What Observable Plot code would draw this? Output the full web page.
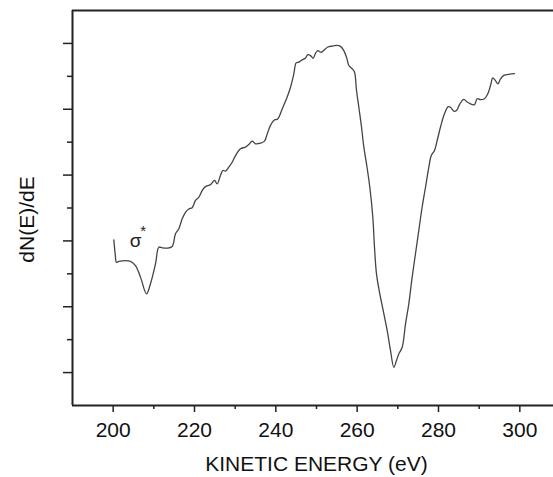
<!DOCTYPE html>
<html>
<head>
<meta charset="utf-8">
<script src="https://cdn.jsdelivr.net/npm/d3@7"></script>
<script src="https://cdn.jsdelivr.net/npm/@observablehq/plot@0.6"></script>
<style>
  html, body { margin: 0; padding: 0; background: #fff; }
  #chart { width: 553px; height: 477px; overflow: hidden; }
</style>
</head>
<body>
<div id="chart"></div>
<script>
// Kinetic energy (eV) and dN(E)/dE (arbitrary units, tick interval = 1)
const energy = [200.16, 200.5, 200.82, 201.39, 204.26, 205.49, 206.72, 208.20, 209.18, 210.41, 211.23, 212.05, 213.28, 214.51, 215.33, 216.15, 216.97, 217.79, 218.61, 219.43, 220.25, 221.07, 221.89, 222.70, 223.93, 224.92, 225.57, 226.39, 226.97, 227.62, 228.44, 229.26, 230.08, 231.31, 232.54, 233.36, 234.18, 235.00, 236.23, 237.21, 237.87, 238.69, 239.51, 240.49, 241.56, 242.79, 243.61, 244.43, 245.00, 245.66, 246.48, 247.30, 247.87, 248.52, 249.18, 249.75, 250.33, 251.15, 251.97, 252.79, 253.85, 254.92, 255.90, 256.72, 257.38, 257.95, 258.77, 259.34, 259.84, 260.41, 261.07, 261.64, 262.30, 263.11, 263.85, 264.26, 264.75, 265.57, 266.39, 267.38, 268.20, 269.02, 269.67, 270.25, 271.07, 271.89, 272.70, 273.52, 274.34, 275.16, 275.98, 276.80, 277.62, 278.20, 279.02, 279.67, 280.49, 281.31, 282.38, 282.95, 283.77, 284.43, 285.25, 286.23, 287.05, 287.87, 288.85, 289.51, 290.33, 291.31, 292.13, 292.79, 293.36, 294.02, 294.59, 295.25, 296.07, 297.30, 298.69];
const signal = [5.03, 4.60, 4.35, 4.38, 4.38, 4.25, 3.90, 3.39, 3.70, 4.30, 4.81, 4.79, 4.78, 4.83, 5.22, 5.37, 5.67, 5.87, 5.97, 6.01, 6.23, 6.33, 6.53, 6.65, 6.71, 6.84, 6.73, 6.99, 7.14, 7.12, 7.24, 7.39, 7.59, 7.80, 7.85, 7.93, 8.03, 7.95, 7.97, 8.03, 8.25, 8.51, 8.66, 8.71, 9.01, 9.37, 9.67, 10.08, 10.41, 10.43, 10.50, 10.56, 10.66, 10.63, 10.55, 10.70, 10.78, 10.73, 10.81, 10.89, 10.92, 10.94, 10.91, 10.78, 10.58, 10.33, 10.23, 10.13, 9.57, 9.06, 8.46, 7.85, 7.34, 6.63, 5.72, 4.81, 4.00, 3.39, 2.89, 2.28, 1.67, 1.16, 1.37, 1.57, 1.77, 2.48, 3.09, 3.90, 4.61, 5.32, 6.03, 6.63, 7.24, 7.59, 7.75, 8.05, 8.46, 8.81, 9.08, 9.06, 8.94, 8.96, 9.16, 9.30, 9.22, 9.16, 9.14, 9.32, 9.29, 9.32, 9.47, 9.72, 9.95, 9.87, 9.77, 9.92, 10.03, 10.06, 10.08];

const xMajorTicks = [200, 220, 240, 260, 280, 300];
const xMinorTicks = [210, 230, 250, 270, 290];
const yMajorTicks = [1, 3, 5, 7, 9, 11];
const yMinorTicks = [2, 4, 6, 8, 10];
const xTitle = "KINETIC ENERGY (eV)";
const yTitle = "dN(E)/dE";
const peakLabel = "σ";
const peakSup = "*";

const data = energy.map((e, i) => ({e, v: signal[i]}));
const font = "'Liberation Sans', Arial, Helvetica, sans-serif";
const ink = "#222";

const chart = Plot.plot({
  width: 553,
  height: 477,
  marginLeft: 72,
  marginRight: 0,
  marginTop: 10,
  marginBottom: 72,
  style: {fontFamily: font, background: "#fff", overflow: "hidden"},
  x: {domain: [190, 310], range: [72, 560]},
  y: {domain: [0, 12]},
  marks: [
    Plot.axisX({ticks: xMajorTicks, tickSize: 7, tickPadding: 10, fontSize: 21, stroke: ink, strokeWidth: 1.5, color: "#111", label: null}),
    Plot.axisX({ticks: xMinorTicks, tickSize: 4, tickFormat: () => "", stroke: ink, strokeWidth: 1.5, label: null}),
    Plot.axisY({ticks: yMajorTicks, tickSize: 9, tickFormat: () => "", stroke: ink, strokeWidth: 1.5, label: null}),
    Plot.axisY({ticks: yMinorTicks, tickSize: 5, tickFormat: () => "", stroke: ink, strokeWidth: 1.5, label: null}),
    Plot.ruleY([0, 12], {stroke: ink, strokeWidth: 2}),
    Plot.ruleX([190], {stroke: ink, strokeWidth: 2}),
    Plot.line(data, {x: "e", y: "v", stroke: "#444", strokeWidth: 1.3, curve: "catmull-rom"}),
    Plot.text([peakLabel], {x: 205.5, y: 4.99, text: d => d, fontSize: 19, fill: "#222", textAnchor: "middle", lineAnchor: "middle"}),
    Plot.text([peakSup], {x: 207.4, y: 5.29, text: d => d, fontSize: 15, fill: "#222", textAnchor: "middle", lineAnchor: "middle"}),
    Plot.text([xTitle], {x: 250, frameAnchor: "bottom", dy: 65, text: d => d, fontSize: 21, fill: "#111", textAnchor: "middle", lineAnchor: "bottom"}),
    Plot.text([yTitle], {y: 5.65, frameAnchor: "left", dx: -45, text: d => d, fontSize: 21, fill: "#111", rotate: -90, textAnchor: "middle", lineAnchor: "middle"})
  ]
});
document.getElementById("chart").appendChild(chart);
</script>
</body>
</html>
